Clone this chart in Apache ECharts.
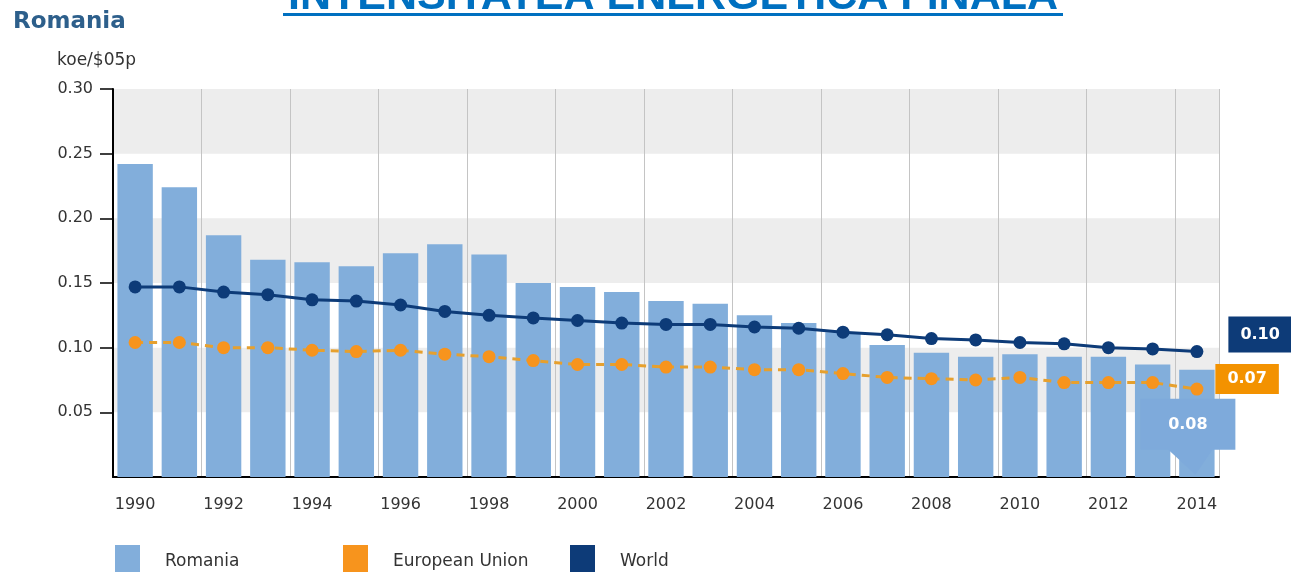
<!DOCTYPE html>
<html>
<head>
<meta charset="utf-8">
<script src="https://cdn.jsdelivr.net/npm/echarts@6/dist/echarts.min.js"></script>
<style>
  html, body { margin: 0; padding: 0; background: #fff; }
  #chart { width: 1291px; height: 572px; }
</style>
</head>
<body>
<div id="chart"></div>
<script>
// data
const years = ['1990', '1991', '1992', '1993', '1994', '1995', '1996', '1997', '1998', '1999',
  '2000', '2001', '2002', '2003', '2004', '2005', '2006', '2007', '2008', '2009',
  '2010', '2011', '2012', '2013', '2014']
const romania = [0.242, 0.224, 0.187, 0.168, 0.166, 0.163, 0.173, 0.180, 0.172, 0.150,
  0.147, 0.143, 0.136, 0.134, 0.125, 0.119, 0.112, 0.102, 0.096, 0.093,
  0.095, 0.093, 0.093, 0.087, 0.083]
const europeanUnion = [0.104, 0.104, 0.100, 0.100, 0.098, 0.097, 0.098, 0.095, 0.093, 0.090,
  0.087, 0.087, 0.085, 0.085, 0.083, 0.083, 0.080, 0.077, 0.076, 0.075,
  0.077, 0.073, 0.073, 0.073, 0.068]
const world = [0.147, 0.147, 0.143, 0.141, 0.137, 0.136, 0.133, 0.128, 0.125, 0.123,
  0.121, 0.119, 0.118, 0.118, 0.116, 0.115, 0.112, 0.110, 0.107, 0.106,
  0.104, 0.103, 0.100, 0.099, 0.097]

let chart = echarts.init(document.getElementById('chart'))
const last = years.length - 1

// put a boxed value label on the last point only
function withEndLabel(values, label) {
  return values.map((v, i) => i === last ? { value: v, label: label } : v)
}

let option = {
  animation: false,
  title: [
    {
      text: 'INTENSITATEA ENERGETICA FINALA',
      left: 283,
      top: -29,
      textStyle: { fontFamily: 'Liberation Sans', fontSize: 43, fontWeight: 'bold', color: '#0070c0' }
    },
    {
      text: 'Romania',
      left: 8,
      top: 6,
      textStyle: { fontFamily: 'DejaVu Sans', fontSize: 23, fontWeight: 'bold', color: '#2d5f8b' }
    }
  ],
  graphic: [
    // underline of the heading
    { type: 'rect', left: 283, top: 13, shape: { width: 780, height: 3 }, style: { fill: '#0070c0' } }
  ],
  legend: [
    { data: ['Romania'], left: 115 },
    { data: ['European Union'], left: 343 },
    { data: ['World'], left: 570 }
  ].map(l => Object.assign(l, {
    top: 545,
    padding: 0,
    icon: 'rect',
    itemWidth: 25,
    itemHeight: 34,
    textStyle: { fontFamily: 'DejaVu Sans', fontSize: 17, color: '#333', padding: [0, 0, 0, 20] }
  })),
  grid: { left: 113, right: 72, top: 89, bottom: 95 },
  xAxis: {
    type: 'category',
    data: years,
    axisLine: { lineStyle: { color: '#000', width: 2 } },
    axisTick: { alignWithLabel: true, interval: 1, length: 12, lineStyle: { color: '#000', width: 1.5 } },
    axisLabel: { interval: 1, margin: 20, fontFamily: 'DejaVu Sans', fontSize: 16, color: '#333' },
    splitLine: { show: true, interval: 1, lineStyle: { color: '#c4c4c4', width: 1 } }
  },
  yAxis: {
    type: 'value',
    min: 0,
    max: 0.30,
    interval: 0.05,
    name: 'koe/$05p',
    nameLocation: 'end',
    nameGap: 20,
    nameTextStyle: { fontFamily: 'DejaVu Sans', fontSize: 17, color: '#333', align: 'left', padding: [0, 0, 0, -56] },
    axisLine: { show: true, lineStyle: { color: '#000', width: 2 } },
    axisTick: { show: true, length: 13, lineStyle: { color: '#000', width: 1.5 } },
    axisLabel: {
      showMinLabel: false,
      margin: 20,
      fontFamily: 'DejaVu Sans',
      fontSize: 16,
      color: '#333',
      formatter: v => v.toFixed(2)
    },
    splitLine: { show: false },
    splitArea: { show: true, areaStyle: { color: ['rgba(255,255,255,0)', '#ededed'] } }
  },
  series: [
    {
      name: 'Romania',
      type: 'bar',
      data: romania,
      barWidth: '80%',
      itemStyle: { color: '#82aedb' },
      markPoint: {
        // callout box with the last value
        symbol: 'path://M0,0 H95 V51 H72 L55,76 L28,51 H0 Z',
        symbolSize: [95, 76],
        symbolOffset: [-9, 67],
        itemStyle: { color: '#7eaadb' },
        label: {
          show: true,
          offset: [0, -12],
          color: '#fff',
          fontFamily: 'DejaVu Sans',
          fontSize: 16,
          fontWeight: 'bold',
          formatter: p => p.value.toFixed(2)
        },
        data: [{ coord: [years[last], romania[last]], value: romania[last] }]
      }
    },
    {
      name: 'European Union',
      type: 'line',
      data: withEndLabel(europeanUnion, {
        show: true,
        position: 'right',
        distance: 12,
        offset: [0, -10],
        backgroundColor: '#f39200',
        padding: [7, 12],
        color: '#fff',
        fontFamily: 'DejaVu Sans',
        fontSize: 16,
        fontWeight: 'bold',
        formatter: p => p.value.toFixed(2)
      }),
      symbol: 'circle',
      symbolSize: 13,
      itemStyle: { color: '#f7941d' },
      lineStyle: { color: '#e6a02e', width: 3, type: [8, 6] },
      z: 3
    },
    {
      name: 'World',
      type: 'line',
      data: withEndLabel(world, {
        show: true,
        position: 'right',
        distance: 25,
        offset: [0, -17],
        backgroundColor: '#0d3b78',
        padding: [10, 12],
        color: '#fff',
        fontFamily: 'DejaVu Sans',
        fontSize: 16,
        fontWeight: 'bold',
        formatter: p => p.value.toFixed(2)
      }),
      symbol: 'circle',
      symbolSize: 13,
      itemStyle: { color: '#0d3b78' },
      lineStyle: { color: '#0d3b78', width: 3 },
      z: 4
    }
  ]
}

chart.setOption(option)
</script>
</body>
</html>
